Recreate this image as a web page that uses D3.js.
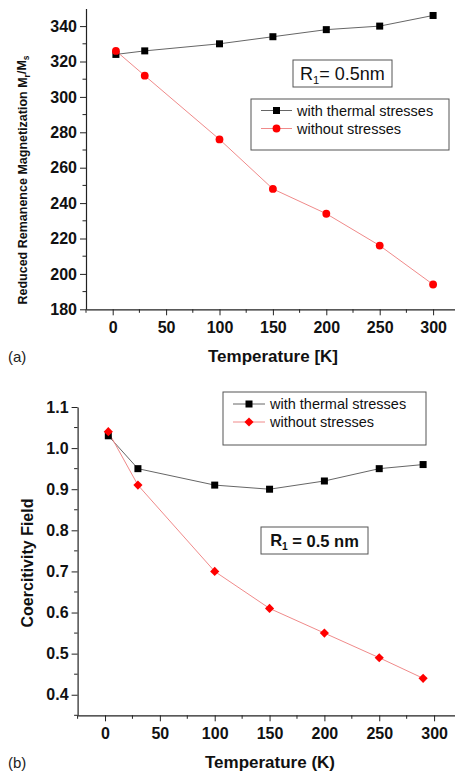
<!DOCTYPE html>
<html>
<head>
<meta charset="utf-8">
<script src="https://d3js.org/d3.v7.min.js"></script>
<style>
  body { margin: 0; background: #fff; }
  svg { display: block; }
</style>
</head>
<body>
<div id="chart"></div>
<script>
// Panel (a): reduced remanence magnetization
const tempA = [3, 30, 100, 150, 200, 250, 300];
const withStressA = [324, 326, 330, 334, 338, 340, 346];
const withoutStressA = [326, 312, 276, 248, 234, 216, 194];
const yTicksA = [180, 200, 220, 240, 260, 280, 300, 320, 340];

// Panel (b): coercitivity field
const tempB = [3, 30, 100, 150, 200, 250, 290];
const withStressB = [1.03, 0.95, 0.91, 0.90, 0.92, 0.95, 0.96];
const withoutStressB = [1.04, 0.91, 0.70, 0.61, 0.55, 0.49, 0.44];
const yTicksB = [0.4, 0.5, 0.6, 0.7, 0.8, 0.9, 1.0, 1.1];

const xTicks = [0, 50, 100, 150, 200, 250, 300];

const width = 455, height = 774;
const boldFont = "'Liberation Sans', Arial, sans-serif";

const svg = d3.select("#chart").append("svg")
    .attr("width", width)
    .attr("height", height);

function drawPanel(opt) {
  const x = d3.scaleLinear().domain([-25, 325]).range(opt.xRange);
  const y = d3.scaleLinear().domain(opt.yDomain).range(opt.yRange);
  const g = svg.append("g");

  // x axis
  const xAxis = g.append("g")
      .attr("transform", `translate(0,${opt.yRange[0]})`)
      .call(d3.axisBottom(x).tickValues(xTicks).tickSize(6).tickSizeOuter(0));
  xAxis.append("g").selectAll("line")
    .data(d3.range(-25, 326, 50))
    .join("line")
      .attr("x1", d => x(d)).attr("x2", d => x(d))
      .attr("y1", 0).attr("y2", 3.5)
      .attr("stroke", "#222");

  // y axis
  const yAxis = g.append("g")
      .attr("transform", `translate(${opt.xRange[0]},0)`)
      .call(d3.axisLeft(y).tickValues(opt.yTicks).tickSize(6).tickSizeOuter(0)
        .tickFormat(opt.yFormat));
  yAxis.append("g").selectAll("line")
    .data(opt.yMinor)
    .join("line")
      .attr("y1", d => y(d)).attr("y2", d => y(d))
      .attr("x1", 0).attr("x2", -3.5)
      .attr("stroke", "#222");

  g.selectAll(".domain").attr("stroke", "#222").attr("stroke-width", 1.2);
  g.selectAll(".tick line").attr("stroke", "#222");
  g.selectAll(".tick text")
      .attr("font-family", boldFont)
      .attr("font-weight", "bold")
      .attr("font-size", 16)
      .attr("fill", "#111");
  xAxis.selectAll(".tick text").attr("dy", "0.9em");

  const line = d3.line().x(d => x(d[0])).y(d => y(d[1]));
  const s1 = d3.zip(opt.temp, opt.withStress);
  const s2 = d3.zip(opt.temp, opt.withoutStress);

  g.append("path").datum(s1).attr("d", line)
      .attr("fill", "none").attr("stroke", "#666").attr("stroke-width", 1);
  g.append("path").datum(s2).attr("d", line)
      .attr("fill", "none").attr("stroke", "#f08a8a").attr("stroke-width", 1);

  g.append("g").selectAll("rect").data(s1).join("rect")
      .attr("x", d => x(d[0]) - 3.5).attr("y", d => y(d[1]) - 3.5)
      .attr("width", 7).attr("height", 7).attr("fill", "#000");

  const redSym = d3.symbol().type(opt.redShape).size(opt.redSize);
  const rot = opt.redShape === d3.symbolSquare ? " rotate(45)" : "";
  g.append("g").selectAll("path").data(s2).join("path")
      .attr("d", redSym)
      .attr("transform", d => `translate(${x(d[0])},${y(d[1])})${rot}`)
      .attr("fill", "#f00");

  // legend
  const lg = opt.legend;
  g.append("rect")
      .attr("x", lg.x).attr("y", lg.y).attr("width", lg.w).attr("height", lg.h)
      .attr("fill", "#fff").attr("stroke", "#555").attr("stroke-width", 1);
  const items = [
    { label: "with thermal stresses", color: "#666", marker: "square" },
    { label: "without stresses", color: "#f08a8a", marker: "red" }
  ];
  items.forEach((it, i) => {
    const yy = lg.y + lg.row0 + i * lg.rowGap;
    g.append("line")
        .attr("x1", lg.x + 10).attr("x2", lg.x + 10 + lg.sample)
        .attr("y1", yy).attr("y2", yy)
        .attr("stroke", it.color);
    const cx = lg.x + 10 + lg.sample / 2;
    if (it.marker === "square") {
      g.append("rect").attr("x", cx - 3.5).attr("y", yy - 3.5)
          .attr("width", 7).attr("height", 7).attr("fill", "#000");
    } else {
      g.append("path").attr("d", redSym)
          .attr("transform", `translate(${cx},${yy})${rot}`)
          .attr("fill", "#f00");
    }
    g.append("text")
        .attr("x", lg.x + 15 + lg.sample).attr("y", yy)
        .attr("dy", "0.36em")
        .attr("font-family", boldFont)
        .attr("font-size", 14.5)
        .attr("fill", "#111")
        .text(it.label);
  });

  // R1 annotation box
  const rb = opt.rbox;
  g.append("rect")
      .attr("x", rb.x).attr("y", rb.y).attr("width", rb.w).attr("height", rb.h)
      .attr("fill", "#fff").attr("stroke", "#555").attr("stroke-width", 1);
  const rt = g.append("text")
      .attr("x", rb.x + rb.w / 2).attr("y", rb.y + rb.h / 2)
      .attr("dy", "0.36em")
      .attr("text-anchor", "middle")
      .attr("font-family", boldFont)
      .attr("font-weight", rb.weight)
      .attr("font-size", rb.size)
      .attr("fill", "#111");
  rt.append("tspan").text("R");
  rt.append("tspan").attr("font-size", rb.size * 0.62).attr("dy", "0.35em").text("1");
  rt.append("tspan").attr("dy", "-0.2em").text(rb.rest);

  // x title and panel letter
  g.append("text")
      .attr("x", opt.xTitleX).attr("y", opt.xTitleY)
      .attr("text-anchor", "middle")
      .attr("font-family", boldFont).attr("font-weight", "bold")
      .attr("font-size", 17).attr("fill", "#111")
      .text(opt.xTitle);
  g.append("text")
      .attr("x", 8).attr("y", opt.xTitleY)
      .attr("font-family", boldFont)
      .attr("font-size", 15).attr("fill", "#222")
      .text(opt.letter);

  return g;
}

// panel (a)
const gA = drawPanel({
  xRange: [86, 459.8],
  yDomain: [180, 350], yRange: [309.3, 8.4],
  yTicks: yTicksA, yMinor: d3.range(190, 350, 20),
  yFormat: d3.format("d"),
  temp: tempA, withStress: withStressA, withoutStress: withoutStressA,
  redShape: d3.symbolCircle, redSize: 48,
  legend: { x: 251, y: 99, w: 198, h: 51, row0: 11.5, rowGap: 18, sample: 31 },
  rbox: { x: 293, y: 60, w: 99, h: 27, size: 18, weight: "normal", rest: "= 0.5nm" },
  xTitle: "Temperature [K]", xTitleX: 273, xTitleY: 362, letter: "(a)"
});

// y title for (a) with subscripts
const yA = gA.append("text")
    .attr("transform", "translate(27,180) rotate(-90)")
    .attr("text-anchor", "middle")
    .attr("font-family", "'Liberation Sans Narrow', 'Arial Narrow', sans-serif")
    .attr("font-stretch", "condensed")
    .attr("font-weight", "bold")
    .attr("font-size", 12.5)
    .attr("fill", "#111");
yA.append("tspan").text("Reduced Remanence Magnetization  M");
yA.append("tspan").attr("font-size", 8.5).attr("dy", "0.35em").text("r");
yA.append("tspan").attr("dy", "-0.35em").text("/M");
yA.append("tspan").attr("font-size", 8.5).attr("dy", "0.35em").text("s");

// panel (b)
const gB = drawPanel({
  xRange: [77.6, 461.5],
  yDomain: [0.35, 1.1], yRange: [715.3, 407],
  yTicks: yTicksB, yMinor: d3.range(0.35, 1.1, 0.1),
  yFormat: d3.format(".1f"),
  temp: tempB, withStress: withStressB, withoutStress: withoutStressB,
  redShape: d3.symbolSquare, redSize: 42,
  legend: { x: 223, y: 392, w: 203, h: 53, row0: 12, rowGap: 18, sample: 32 },
  rbox: { x: 261, y: 527, w: 107, h: 27, size: 16.5, weight: "bold", rest: " = 0.5 nm" },
  xTitle: "Temperature (K)", xTitleX: 270, xTitleY: 768, letter: "(b)"
});

gB.append("text")
    .attr("transform", "translate(33,563) rotate(-90)")
    .attr("text-anchor", "middle")
    .attr("font-family", boldFont)
    .attr("font-weight", "bold")
    .attr("font-size", 16)
    .attr("fill", "#111")
    .text("Coercitivity Field");
</script>
</body>
</html>
